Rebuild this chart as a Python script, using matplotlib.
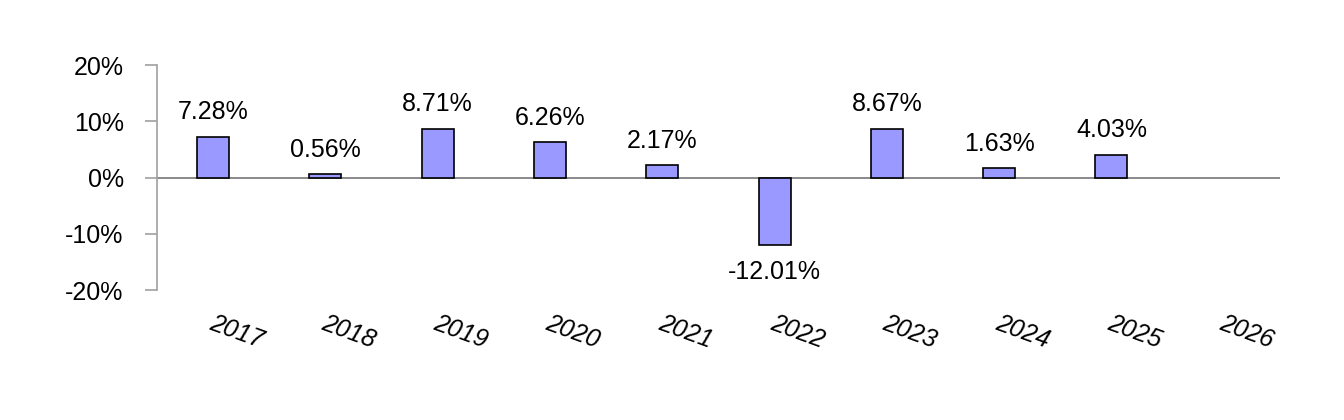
import numpy as np
import matplotlib.pyplot as plt
from matplotlib.transforms import ScaledTranslation

plt.rcParams['font.family'] = ['Liberation Sans', 'DejaVu Sans']

years = ['2017', '2018', '2019', '2020', '2021', '2022', '2023', '2024', '2025', '2026']
returns = [7.28, 0.56, 8.71, 6.26, 2.17, -12.01, 8.67, 1.63, 4.03, np.nan]

fig = plt.figure(figsize=(13.44, 4.2), dpi=100)
ax = fig.add_axes([0.1168, 0.3095, 0.8355, 0.5357])

x = np.arange(len(years))
vals = np.array(returns)
ok = ~np.isnan(vals)
ax.bar(x[ok], vals[ok], width=0.285, color='#9999ff', edgecolor='black', linewidth=1.2, zorder=3)
ax.axhline(0, color='#808080', linewidth=1.3, zorder=2)

for xi, v in zip(x[ok], vals[ok]):
    if v >= 0:
        ax.annotate(f'{v:.2f}%', (xi, v), xytext=(0, 9), textcoords='offset points',
                    ha='center', va='bottom', fontsize=18)
    else:
        ax.annotate(f'{v:.2f}%', (xi, v), xytext=(0, -11), textcoords='offset points',
                    ha='center', va='top', fontsize=18)

ax.set_xlim(-0.5, len(years) - 0.5)
ax.set_ylim(-20, 20)
ax.set_yticks([-20, -10, 0, 10, 20])
ax.set_yticklabels(['-20%', '-10%', '0%', '10%', '20%'], fontsize=18)
ax.tick_params(axis='y', length=9, width=1.2, color='#a0a0a0', pad=15)

ax.set_xticks(x)
ax.set_xticklabels(years, fontsize=18, style='italic', rotation=-20, ha='center')
ax.tick_params(axis='x', length=0, pad=15)
for lbl in ax.get_xticklabels():
    lbl.set_transform(lbl.get_transform() + ScaledTranslation(0.23, 0, fig.dpi_scale_trans))

for s in ['top', 'right', 'bottom']:
    ax.spines[s].set_visible(False)
ax.spines['left'].set_color('#a0a0a0')
ax.spines['left'].set_linewidth(1.2)

fig.savefig('out.png', dpi=100)
